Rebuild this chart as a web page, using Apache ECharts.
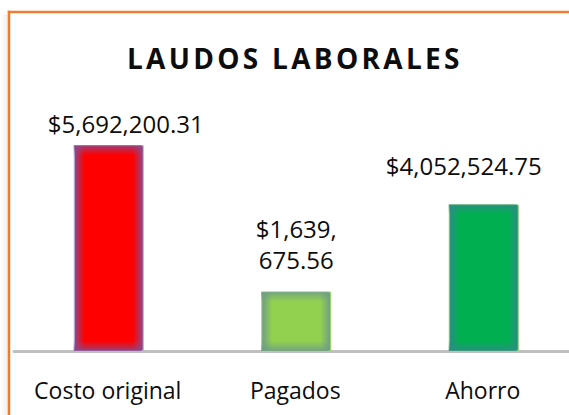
<!DOCTYPE html>
<html>
<head>
<meta charset="utf-8">
<script src="https://cdn.jsdelivr.net/npm/echarts@6/dist/echarts.min.js"></script>
<style>
  html, body { margin: 0; padding: 0; background: #fff; overflow: hidden; }
  #main { width: 569px; height: 415px; }
  #main svg text[style*="bold"] { letter-spacing: 3.3px; }
</style>
</head>
<body>
<div id="main"></div>
<script>
// ---- data ----
const chartTitle = 'LAUDOS LABORALES';
const categories = ['Costo original', 'Pagados', 'Ahorro'];
const values = [5692200.31, 1639675.56, 4052524.75];

// ---- styles ----
const coreColors = ['#FF0000', '#92D050', '#00B050'];
const edgeColors = ['#8A4A8C', '#6E9C86', '#2C8C84'];
const borderColors = ['#B9B3E0', '#9ED860', '#8FD070'];
const labelOffsets = [[17, -2], [0, -9], [-20, -19]];
const yMax = 6000000;

function fmtMoney(v) {
  const parts = v.toFixed(2).split('.');
  const intPart = parts[0].replace(/\B(?=(\d{3})+(?!\d))/g, ',');
  return '$' + intPart + '.' + parts[1];
}

function hexToRgba(hex, a) {
  const n = parseInt(hex.slice(1), 16);
  return 'rgba(' + ((n >> 16) & 255) + ',' + ((n >> 8) & 255) + ',' + (n & 255) + ',' + a + ')';
}

const mainData = values.map((v, i) => {
  const item = {
    value: v,
    itemStyle: {
      color: new echarts.graphic.LinearGradient(0, 0, 1, 0, [
        { offset: 0, color: edgeColors[i] },
        { offset: 0.15, color: coreColors[i] },
        { offset: 0.85, color: coreColors[i] },
        { offset: 1, color: edgeColors[i] }
      ]),
      borderColor: borderColors[i],
      borderWidth: 1
    },
    label: { offset: labelOffsets[i] }
  };
  if (i === 1) {
    item.label.width = 86;
    item.label.overflow = 'breakAll';
    item.label.lineHeight = 31;
  }
  return item;
});

const overlayData = values.map((v, i) => {
  const h = v / yMax * 217;
  const f = Math.min(0.45, 10 / h);
  return {
    value: v,
    itemStyle: {
      color: new echarts.graphic.LinearGradient(0, 0, 0, 1, [
        { offset: 0, color: hexToRgba(edgeColors[i], 0.85) },
        { offset: f, color: hexToRgba(edgeColors[i], 0) },
        { offset: 1 - f, color: hexToRgba(edgeColors[i], 0) },
        { offset: 1, color: hexToRgba(edgeColors[i], 0.85) }
      ])
    }
  };
});

const chart = echarts.init(document.getElementById('main'), null, { renderer: 'svg' });
chart.setOption({
  animation: false,
  title: {
    text: chartTitle,
    left: 127,
    top: 44,
    padding: 0,
    textStyle: {
      fontFamily: 'Open Sans',
      fontWeight: 'bold',
      fontSize: 28,
      color: '#0d0d0d'
    }
  },
  grid: { left: 14, width: 562.5, top: 134, bottom: 64, containLabel: false, outerBoundsMode: 'none' },
  xAxis: {
    type: 'category',
    data: categories,
    axisTick: { show: false },
    axisLine: { lineStyle: { color: '#BFBFBF', width: 3 } },
    axisLabel: {
      margin: 27,
      fontFamily: 'Open Sans',
      fontSize: 23,
      color: '#0d0d0d',
      interval: 0
    }
  },
  yAxis: {
    type: 'value',
    min: 0,
    max: yMax,
    show: false,
    splitLine: { show: false }
  },
  graphic: [
    {
      type: 'rect',
      shape: { x: 0, y: 14, width: 8, height: 420 },
      style: {
        fill: new echarts.graphic.LinearGradient(0, 0, 1, 0, [
          { offset: 0, color: 'rgba(0,0,0,0)' },
          { offset: 1, color: 'rgba(0,0,0,0.07)' }
        ])
      },
      silent: true, z: 1
    },
    {
      type: 'line',
      shape: { x1: 9, y1: 10.75, x2: 9, y2: 430 },
      style: { stroke: '#ED7D31', lineWidth: 2.5 },
      silent: true, z: 100
    },
    {
      type: 'line',
      shape: { x1: 7.75, y1: 12, x2: 600, y2: 12 },
      style: { stroke: '#ED7D31', lineWidth: 2.5 },
      silent: true, z: 100
    }
  ],
  series: [
    {
      type: 'bar',
      data: mainData,
      barWidth: 70,
      barGap: '-100%',
      z: 2,
      label: {
        show: true,
        position: 'top',
        distance: 8,
        formatter: p => fmtMoney(p.value),
        fontFamily: 'Open Sans',
        fontSize: 24,
        color: '#0d0d0d'
      }
    },
    {
      type: 'bar',
      data: overlayData,
      barWidth: 68,
      barGap: '-100%',
      silent: true,
      z: 3,
      label: { show: false }
    }
  ]
});
</script>
</body>
</html>
